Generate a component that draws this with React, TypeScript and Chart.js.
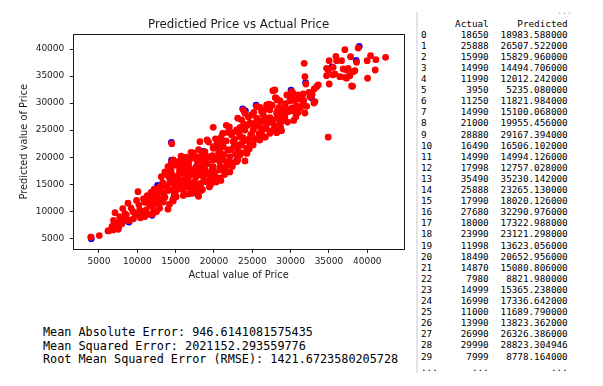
import React, { useEffect, useRef } from "react";
import { Chart, registerables } from "chart.js";

Chart.register(...registerables);

// ---------- chart text ----------
const chartTitle = "Predictied Price vs Actual Price";
const xAxisLabel = "Actual value of Price";
const yAxisLabel = "Predicted value of Price";

// ---------- axes ----------
const xTicks = [5000, 10000, 15000, 20000, 25000, 30000, 35000, 40000];
const yTicks = [5000, 10000, 15000, 20000, 25000, 30000, 35000, 40000];
const xMin = 1650;
const xMax = 44790;
const yMin = 2970;
const yMax = 42720;

// ---------- table (first rows of the results frame) ----------
const tableActual = [
  "18650", "25888", "15990", "14990", "11990", "3950", "11250", "14990", "21000", "28880",
  "16490", "14990", "17998", "35490", "25888", "17990", "27680", "18000", "23990", "11998",
  "18490", "14870", "7980", "14999", "16990", "11000", "13990", "26990", "29990", "7999",
];
const tablePredicted = [
  "18983.588000", "26507.522000", "15829.960000", "14494.706000", "12012.242000",
  "5235.080000", "11821.984000", "15100.068000", "19955.456000", "29167.394000",
  "16506.102000", "14994.126000", "12757.028000", "35230.142000", "23265.130000",
  "18020.126000", "32290.976000", "17322.988000", "23121.298000", "13623.056000",
  "20652.956000", "15080.806000", "8821.980000", "15365.238000", "17336.642000",
  "11689.790000", "13823.362000", "26326.386000", "28823.304946", "8778.164000",
];

// ---------- metrics ----------
const metricLines = [
  "Mean Absolute Error: 946.6141081575435",
  "Mean Squared Error: 2021152.293559776",
  "Root Mean Squared Error (RMSE): 1421.6723580205728",
];

// ---------- red series (actual, predicted) ----------
const redEdgePairs: [number, number][] = [
  [3950, 5235], [5040, 5500], [6300, 6420], [6860, 6550], [7520, 6680], [7090, 9750],
  [7740, 8090], [8170, 8900], [8820, 8400], [7050, 7790], [6170, 6370], [7910, 8090],
  [7700, 9010], [8560, 9320], [8910, 8270], [8780, 11490], [9430, 9930], [10090, 13630],
  [10310, 10250], [10960, 9010], [11170, 10250], [11950, 9450], [11610, 11170], [12040, 12700],
  [12690, 12100], [12910, 10560], [14000, 10380], [13350, 13330], [12910, 14550], [13780, 14550],
  [14430, 13940], [14650, 12100], [15080, 12700], [13120, 16400], [14220, 16100], [14000, 18250],
  [14430, 18880], [14870, 18560], [15950, 19800], [17040, 19800], [15520, 17640], [16610, 17640],
  [17690, 18250], [18130, 19800], [15520, 15790], [16610, 16100], [17690, 16400], [16380, 14550],
  [17260, 14870], [18340, 15180], [14870, 13330], [15950, 13940], [14690, 11910], [14500, 22500],
  [15780, 17950], [16440, 19490], [18170, 19490], [19040, 19800], [19900, 19490], [18600, 17030],
  [19700, 17640], [19040, 15480], [20130, 16400], [15130, 13940], [17300, 14260], [18170, 14550],
  [19900, 21950], [18170, 22870], [19900, 25530], [21130, 24420], [22960, 25030], [24040, 25030],
  [25120, 25030], [26220, 24720], [27300, 24420], [28170, 24530], [22300, 24110], [23390, 23790],
  [24690, 23500], [25770, 23500], [22510, 22870], [22960, 22260], [23610, 22570], [24260, 21650],
  [23170, 21020], [24040, 19300], [22960, 19170], [21210, 21950], [20780, 21020], [19900, 21650],
  [18820, 21020], [19470, 20100], [20350, 19800], [21210, 19490], [22080, 20100], [17740, 20100],
  [16870, 19800], [15990, 19490], [14690, 19490], [15130, 18560], [18600, 18880], [19900, 18250],
  [20780, 17640], [16870, 17950], [18170, 17640], [19470, 17030], [15990, 17030], [17300, 16720],
  [18600, 16400], [19900, 16400], [23610, 26880], [24690, 26270], [25560, 25960], [26650, 26570],
  [27730, 26270], [28600, 26270], [29250, 27490], [30690, 27490], [24910, 27800], [24040, 28120],
  [26430, 27800], [27300, 28730], [28170, 28120], [29030, 28120], [29690, 28410], [30560, 28410],
  [26870, 29650], [25640, 29340], [27950, 32420], [28170, 30890], [30340, 31810], [30990, 31500],
  [28600, 28730], [29910, 28730], [29030, 27190], [31430, 31190], [31770, 37360], [31860, 34880],
  [31990, 33530], [32510, 31190], [33170, 30260], [33390, 33030], [33080, 32610], [33600, 33350],
  [30130, 32180], [30130, 31370], [31640, 31680], [31210, 30760], [33040, 30020], [31640, 29840],
  [30780, 29520], [29250, 29520], [29910, 28600], [30990, 28300], [31860, 28170], [28820, 24900],
  [28600, 30450], [34690, 36430], [35550, 36620], [36860, 36300], [37510, 36430], [38380, 35990],
  [34690, 35070], [35770, 35380], [36430, 34880], [37080, 34770], [37730, 35070], [38080, 33110],
  [35030, 33530], [37080, 39870], [38810, 40190], [37820, 38580], [35910, 38650], [35030, 37840],
  [36000, 37840], [36650, 37840], [38600, 37540], [40430, 38760], [41120, 38020], [39990, 37840],
  [42390, 38470], [41030, 36120], [40040, 34590], [34900, 23700], [34900, 36120], [37300, 36120],
  [38160, 35810], [37950, 33160], [37300, 34590], [23820, 28730], [25560, 29340], [26220, 28410],
  [28250, 30580], [21210, 24420], [21650, 18560], [22080, 17270], [20780, 16160], [21430, 18010],
  [22470, 18930], [23390, 20410], [21820, 21340], [25120, 22260], [25990, 23180],
];

// ---------- red series: the solid core of the band ----------
const redCorePairs: [number, number][] = [
  [6700, 7200], [7200, 7500], [7600, 7200], [8000, 7700], [8400, 9500], [8100, 10500], [6900, 8300],
  [9200, 10600], [9700, 9600], [10200, 11200], [10600, 10000], [9500, 8600], [10400, 8800],
  [11000, 11700], [11300, 9400], [10800, 12300], [9900, 12000],
  [11700, 12200], [12000, 10800], [12300, 11600], [12600, 13300], [12200, 14100], [11800, 13500],
  [12800, 11300], [13100, 12200], [12500, 9900], [13000, 14300],
  [13300, 15300], [13600, 12600], [13900, 13900], [14200, 15200], [14500, 16800], [14700, 15700],
  [14200, 11300], [13600, 17300], [14900, 14300], [13900, 16700], [14400, 17600], [14800, 12900],
  [13400, 11700],
  [15300, 16600], [15600, 14800], [15800, 18700], [16100, 15600], [16300, 17200], [16600, 13200],
  [16900, 15300], [15400, 19200], [16000, 12900], [16700, 18900], [15200, 15200], [16400, 16400],
  [16900, 16800], [15700, 20200],
  [17200, 17400], [17500, 15500], [17800, 19300], [18100, 16800], [18400, 18300], [18700, 15600],
  [18900, 19900], [17300, 20800], [18000, 21400], [17600, 13900], [18500, 14000], [18800, 17800],
  [17900, 17900],
  [19200, 18800], [19500, 16000], [19800, 20300], [20100, 17200], [20400, 22500], [20700, 19300],
  [20900, 15700], [19300, 22800], [20200, 23400], [20600, 20800], [19600, 15000], [20800, 18300],
  [21000, 22300],
  [21300, 20500], [21600, 23000], [21900, 19200], [22200, 21400], [22500, 24600], [22800, 20600],
  [21500, 17800], [22000, 25600], [22700, 23300], [21200, 22900], [22400, 18300], [23000, 21800],
  [23300, 24400], [23600, 20800], [23900, 26100], [24200, 23100], [24500, 27400], [24800, 24200],
  [23500, 22200], [24300, 20700], [24900, 26200], [23100, 27200], [24700, 22400],
  [25300, 25600], [25600, 27200], [25900, 24400], [26200, 26700], [26500, 28700], [26800, 25300],
  [25400, 23300], [26000, 29200], [26700, 23700], [25200, 28300], [27000, 27200],
  [27300, 27300], [27600, 29600], [27900, 25700], [28200, 27300], [28500, 29200], [28800, 26600],
  [27500, 24900], [28000, 31000], [28700, 25500],
  [29300, 29900], [29600, 26500], [29900, 30400], [30200, 29100], [30500, 30500], [30800, 29400],
  [29500, 31500], [30400, 26800],
  [31300, 29200], [31700, 30500], [32100, 29400], [32400, 32000], [32800, 31600],
  [15000, 16000], [15500, 17300], [16200, 18300], [16800, 14400], [17100, 13300], [17700, 15000],
  [18300, 13800], [18900, 16900], [19400, 14500], [19900, 17800], [20300, 15400], [20500, 21600],
  [20900, 23600], [21400, 16800], [21800, 24600], [22100, 18800], [22600, 21900], [23100, 19500],
  [23400, 25500], [23800, 23600], [24400, 25900], [24600, 21500], [25000, 23900], [25500, 26500],
  [26100, 25500], [26400, 23800], [26900, 26200], [27200, 29800], [27700, 26800], [28300, 28700],
  [28900, 27800], [29400, 28900], [16300, 20000], [17000, 20900], [13200, 14800], [12600, 12500],
  [11300, 12900], [10100, 9400], [12100, 9800], [19100, 23200], [21600, 25900],
];

// ---------- blue series (actual, predicted) – the edges visible beside the red dots ----------
const bluePairs: [number, number][] = [
  [3990, 4930], [8930, 8000], [11930, 9250], [14470, 19450], [14450, 22750], [17900, 13000],
  [14650, 12150], [18620, 21050], [22960, 19450], [25900, 23350], [28350, 24800], [24100, 28550],
  [30050, 32400], [38950, 40500], [38550, 37900], [35400, 36700], [31950, 33800], [29950, 31400],
  [32700, 31000], [28950, 26950], [25500, 29600], [23750, 28950], [12650, 14800], [8800, 8150],
];

const FONT = "'DejaVu Sans', sans-serif";
const MONO = "'DejaVu Sans Mono', monospace";
const INK = "#1a1a1a";

const framePlugin = {
  id: "frameBox",
  afterDraw(chart: any) {
    const { ctx, chartArea: a } = chart;
    ctx.save();
    ctx.strokeStyle = INK;
    ctx.lineWidth = 1;
    ctx.strokeRect(
      Math.round(a.left) + 0.5,
      Math.round(a.top) + 0.5,
      Math.round(a.right - a.left),
      Math.round(a.bottom - a.top)
    );
    // title centred over the plot area
    ctx.fillStyle = INK;
    ctx.font = "normal 11.8px 'DejaVu Sans', sans-serif";
    ctx.textAlign = "center";
    ctx.textBaseline = "middle";
    ctx.fillText(chartTitle, (a.left + a.right) / 2, 25);
    ctx.restore();
  },
};

function ScatterChart() {
  const ref = useRef<HTMLCanvasElement | null>(null);
  useEffect(() => {
    if (!ref.current) return;
    const redData = [
      ...tableActual.map((a, i) => ({ x: Number(a), y: Number(tablePredicted[i]) })),
      ...redEdgePairs.map(([x, y]) => ({ x, y })),
      ...redCorePairs.map(([x, y]) => ({ x, y })),
    ];
    const blueData = bluePairs.map(([x, y]) => ({ x, y }));
    const chart = new Chart(ref.current, {
      type: "scatter",
      data: {
        datasets: [
          {
            label: "red",
            data: redData,
            backgroundColor: "#ff0000",
            borderWidth: 0,
            pointRadius: 3.4,
            pointHoverRadius: 3.4,
          },
          {
            label: "blue",
            data: blueData,
            backgroundColor: "#0000ff",
            borderWidth: 0,
            pointRadius: 3.4,
            pointHoverRadius: 3.4,
          },
        ],
      },
      options: {
        responsive: false,
        animation: false,
        events: [],
        layout: { padding: { left: 0, right: 6, top: 34.3, bottom: 0 } },
        plugins: {
          legend: { display: false },
          tooltip: { enabled: false },
          title: { display: false },
        },
        scales: {
          x: {
            type: "linear",
            min: xMin,
            max: xMax,
            afterBuildTicks: (s: any) => {
              s.ticks = xTicks.map((v) => ({ value: v }));
            },
            afterFit: (s: any) => {
              s.height = 50.7;
            },
            grid: {
              drawOnChartArea: false,
              drawTicks: true,
              tickLength: 3.5,
              tickColor: INK,
              color: INK,
            },
            border: { display: false },
            ticks: {
              color: INK,
              font: { family: FONT, size: 9 },
              padding: 3.5,
              maxRotation: 0,
              autoSkip: false,
              callback: (v: any) => String(v),
            },
            title: {
              display: true,
              text: xAxisLabel,
              color: INK,
              font: { family: FONT, size: 9.8, lineHeight: 1.2 },
              padding: { top: 0, bottom: 19 },
            },
          },
          y: {
            type: "linear",
            min: yMin,
            max: yMax,
            afterBuildTicks: (s: any) => {
              s.ticks = yTicks.map((v) => ({ value: v }));
            },
            afterFit: (s: any) => {
              s.width = 73.3;
            },
            grid: {
              drawOnChartArea: false,
              drawTicks: true,
              tickLength: 3.5,
              tickColor: INK,
              color: INK,
            },
            border: { display: false },
            ticks: {
              color: INK,
              font: { family: FONT, size: 9 },
              padding: 5.5,
              autoSkip: false,
              callback: (v: any) => String(v),
            },
            title: {
              display: true,
              text: yAxisLabel,
              color: INK,
              font: { family: FONT, size: 9.8, lineHeight: 1.2 },
              padding: { top: 19, bottom: 0 },
            },
          },
        },
      },
      plugins: [framePlugin],
    });
    return () => chart.destroy();
  }, []);
  return (
    <canvas
      ref={ref}
      width={410}
      height={300}
      style={{ position: "absolute", left: 0, top: 0, width: 410, height: 300 }}
    />
  );
}

const TABLE_FONT = 9.3;
const ROW0 = 34;
const ROW_STEP = 11.1;
const HEADER_Y = 23.5;

function cellStyle(centerY: number): React.CSSProperties {
  return {
    position: "absolute",
    top: centerY - 5.4,
    height: 11,
    lineHeight: "11px",
    fontFamily: MONO,
    fontSize: TABLE_FONT,
    color: "#000",
    whiteSpace: "pre",
  };
}

export default function App() {
  const rows = tableActual.map((a, i) => {
    const cy = ROW0 + i * ROW_STEP;
    return (
      <React.Fragment key={i}>
        <div style={{ ...cellStyle(cy), left: 421 }}>{String(i)}</div>
        <div style={{ ...cellStyle(cy), right: 603 - 488.7, textAlign: "right" }}>{a}</div>
        <div style={{ ...cellStyle(cy), right: 603 - 567.7, textAlign: "right" }}>
          {tablePredicted[i]}
        </div>
      </React.Fragment>
    );
  });
  const ellY = ROW0 + 30 * ROW_STEP;
  return (
    <div
      style={{
        position: "fixed",
        left: 0,
        top: 0,
        width: 603,
        height: 386,
        background: "#fff",
        overflow: "hidden",
      }}
    >
      <ScatterChart />
      <div
        style={{
          position: "absolute",
          left: 415.5,
          top: 12,
          width: 2,
          height: 361,
          background: "#e4e4e4",
        }}
      />
      <div
        style={{
          ...cellStyle(11),
          right: 603 - 571.7,
          textAlign: "right",
          color: "#9a9a9a",
          fontSize: 8,
        }}
      >
        ...
      </div>
      <div style={{ ...cellStyle(HEADER_Y), right: 603 - 488.7, textAlign: "right" }}>Actual</div>
      <div style={{ ...cellStyle(HEADER_Y), right: 603 - 567.7, textAlign: "right" }}>Predicted</div>
      {rows}
      <div style={{ ...cellStyle(ellY), left: 421 }}>...</div>
      <div style={{ ...cellStyle(ellY), right: 603 - 488.7, textAlign: "right" }}>...</div>
      <div style={{ ...cellStyle(ellY), right: 603 - 567.7, textAlign: "right" }}>...</div>
      {metricLines.map((t, i) => (
        <div
          key={t}
          style={{
            position: "absolute",
            left: 43,
            top: 331.7 + i * 13.8 - 7,
            height: 14,
            lineHeight: "14px",
            fontFamily: MONO,
            fontSize: 11.8,
            color: "#000",
            whiteSpace: "pre",
          }}
        >
          {t}
        </div>
      ))}
    </div>
  );
}
